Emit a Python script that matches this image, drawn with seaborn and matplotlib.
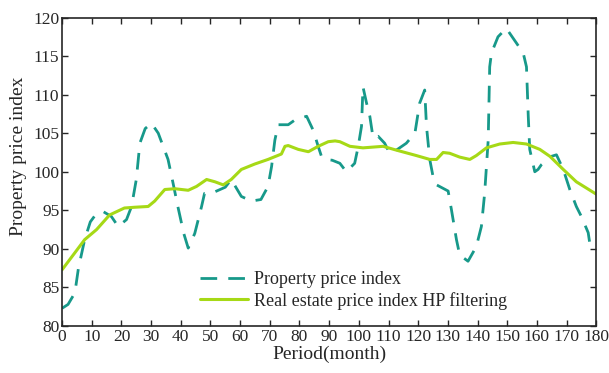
import pandas as pd
import matplotlib
matplotlib.use("Agg")
import matplotlib.pyplot as plt
import seaborn as sns

# Property price index (dashed)
period_raw = [0, 2, 4.3, 5.5, 7.6, 9.5, 11.6, 14, 16.6, 18.9, 21.7, 23.4, 25, 26.2, 28, 30.1,
              32.4, 35.7, 37.4, 39, 41, 42.5, 44.7, 47, 48, 50.3, 55, 57, 60.4, 63.8, 67,
              69.4, 70.6, 71.7, 72.8, 76.2, 78.4, 82.4, 84.6, 86.3, 87.4, 88.5, 91, 93.6,
              95.8, 98.6, 99.8, 100.9, 101.4, 102.6, 103.7, 104.8, 106.5, 108.7, 110.4,
              113, 116, 118.9, 120.5, 122.2, 122.8, 123.9, 125, 126.2, 130.1, 131.2,
              132.9, 134, 136.8, 139.6, 141.3, 142.4, 143.6, 144.1, 144.7, 146.9, 149.7,
              153.1, 155.4, 156.5, 157.1, 157.6, 159.3, 160.4, 161.5, 164.9, 166.6,
              168.9, 171.1, 173.3, 175, 177.3, 177.8]
index_raw = [82.3, 82.8, 84.3, 87.5, 91.2, 93.5, 94.6, 94.8, 94.2, 92.9, 93.8, 95.5, 99,
             103.7, 105.6, 106.3, 105, 101.6, 98.5, 95.5, 92, 90.1, 92, 95.5, 97.2, 97.2,
             98, 99, 96.8, 96.2, 96.4, 98.1, 100.7, 104.1, 106.1, 106.1, 106.7, 107.2,
             105.4, 103.3, 102, 101.6, 101.5, 101.1, 100, 101.1, 103.3, 105.9, 111,
             108.9, 107.2, 104.4, 104.6, 103.7, 102.4, 102.9, 103.7, 105, 108.9, 110.6,
             105.9, 101.6, 99.4, 98.3, 97.5, 95.1, 91.2, 89.2, 88.4, 90.3, 92.9, 97.2,
             104.1, 113.6, 115.4, 117.5, 118.6, 116.7, 115.4, 113.6, 107.2, 102.9, 100,
             100.3, 100.9, 102, 102.2, 100.3, 97.7, 95.5, 94.2, 92.1, 90.8]

# HP filtered trend (solid)
period_hp = [0, 4.3, 7.6, 11.6, 16, 21, 24.5, 29, 31.2, 34.6, 38, 42.5, 45.3, 48.7, 51.5,
             54.3, 57, 60.4, 64.9, 69.4, 73.9, 75.1, 76.2, 79.6, 83, 86.3, 89.7, 92, 93.6,
             97, 101.4, 108.2, 112.7, 119.4, 123.9, 126.2, 128.4, 130.6, 134, 137.4,
             139.6, 143, 147.5, 152, 156.5, 161, 164.4, 168.9, 173.3, 180]
index_hp = [87.3, 89.5, 91.2, 92.5, 94.4, 95.3, 95.4, 95.5, 96.2, 97.7, 97.8, 97.6, 98.1,
            99, 98.7, 98.3, 99, 100.3, 101, 101.6, 102.3, 103.3, 103.4, 102.9, 102.6,
            103.3, 103.9, 104, 103.9, 103.3, 103.1, 103.3, 102.8, 102.1, 101.6, 101.6,
            102.5, 102.4, 101.9, 101.6, 102.1, 103.1, 103.6, 103.8, 103.6, 102.9, 102,
            100.3, 98.7, 97.1]

x_ticks = list(range(0, 181, 10))
y_ticks = list(range(80, 121, 5))

raw = pd.DataFrame({"Period": period_raw, "Index": index_raw})
hp = pd.DataFrame({"Period": period_hp, "Index": index_hp})

sns.set_style("ticks")
plt.rcParams["font.family"] = ["Liberation Serif", "DejaVu Serif"]
plt.rcParams["xtick.direction"] = "in"
plt.rcParams["ytick.direction"] = "in"

fig = plt.figure(figsize=(6.09, 3.73), dpi=100)
ax = fig.add_axes([0.102, 0.126, 0.877, 0.827])

sns.lineplot(data=raw, x="Period", y="Index", ax=ax, color="#17998a", lw=2.0,
             label="Property price index", dashes=False, linestyle=(0, (6, 4)))
sns.lineplot(data=hp, x="Period", y="Index", ax=ax, color="#a6d916", lw=2.2,
             label="Real estate price index HP filtering")

ax.set_xlim(0, 180)
ax.set_ylim(80, 120)
ax.set_xticks(x_ticks)
ax.set_yticks(y_ticks)
ax.tick_params(top=True, right=True, labelsize=12.5, length=4, width=1, pad=2)
for s in ax.spines.values():
    s.set_linewidth(1.2)
ax.set_xlabel("Period(month)", fontsize=14, labelpad=1)
ax.set_ylabel("Property price index", fontsize=14, labelpad=2)
ax.yaxis.set_label_coords(-0.065, 0.55)

ax.legend(loc="lower center", bbox_to_anchor=(0.545, 0.0), frameon=False, fontsize=13,
          handlelength=2.7, handletextpad=0.3, labelspacing=0.2)

fig.savefig("out.png", dpi=100)
